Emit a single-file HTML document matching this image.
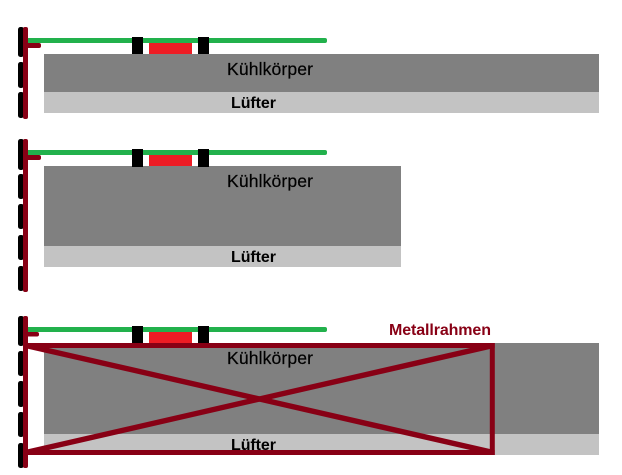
<!DOCTYPE html>
<html>
<head>
<meta charset="utf-8">
<style>
html,body{margin:0;padding:0;background:#fff;width:622px;height:475px;overflow:hidden}
svg{display:block}
text{font-family:"Liberation Sans",Arial,sans-serif;font-size:16px}
.b{font-weight:bold}
.k{font-size:17.6px;stroke:#000;stroke-width:.2px;fill:#000}
</style>
</head>
<body>
<svg width="622" height="475" viewBox="0 0 622 475" xmlns="http://www.w3.org/2000/svg">
<rect width="622" height="475" fill="#fff"/>

<!-- Panel 1 -->
<rect x="44" y="54" width="555" height="38" fill="#808080"/>
<rect x="44" y="92" width="555" height="21" fill="#c3c3c3"/>
<rect x="149" y="43" width="43" height="11" fill="#ed1c24"/>
<rect x="26" y="38" width="301" height="5" rx="2" fill="#22b14c"/>
<rect x="132" y="37" width="11" height="17" fill="#000"/>
<rect x="198" y="37" width="11" height="17" fill="#000"/>
<g fill="#000">
<rect x="18" y="27" width="6" height="30" rx="2.5"/>
<rect x="18" y="62" width="6" height="26" rx="2.5"/>
<rect x="18" y="92" width="6" height="26" rx="2.5"/>
</g>
<rect x="23" y="27" width="5" height="92" rx="2" fill="#880015"/>
<rect x="26" y="43" width="15" height="5" rx="2" fill="#880015"/>
<text x="227" y="75" class="k" textLength="86" lengthAdjust="spacing">Kühlkörper</text>
<text x="231" y="108" class="b" textLength="45" lengthAdjust="spacing">Lüfter</text>

<!-- Panel 2 -->
<rect x="44" y="166" width="357" height="80" fill="#808080"/>
<rect x="44" y="246" width="357" height="21" fill="#c3c3c3"/>
<rect x="149" y="155" width="43" height="11" fill="#ed1c24"/>
<rect x="26" y="150" width="301" height="5" rx="2" fill="#22b14c"/>
<rect x="132" y="149" width="11" height="18" fill="#000"/>
<rect x="198" y="149" width="11" height="18" fill="#000"/>
<g fill="#000">
<rect x="18" y="139" width="6" height="31" rx="2.5"/>
<rect x="18" y="174" width="6" height="25" rx="2.5"/>
<rect x="18" y="204" width="6" height="25" rx="2.5"/>
<rect x="18" y="235" width="6" height="25" rx="2.5"/>
<rect x="18" y="266" width="6" height="25" rx="2.5"/>
</g>
<rect x="23" y="139" width="5" height="153" rx="2" fill="#880015"/>
<rect x="26" y="155" width="15" height="5" rx="2" fill="#880015"/>
<text x="227" y="187" class="k" textLength="86" lengthAdjust="spacing">Kühlkörper</text>
<text x="231" y="262" class="b" textLength="45" lengthAdjust="spacing">Lüfter</text>

<!-- Panel 3 -->
<rect x="44" y="343" width="555" height="91" fill="#808080"/>
<rect x="44" y="434" width="555" height="21" fill="#c3c3c3"/>
<rect x="149" y="332" width="43" height="11" fill="#ed1c24"/>
<rect x="26" y="327" width="301" height="5" rx="2" fill="#22b14c"/>
<rect x="132" y="326" width="11" height="17" fill="#000"/>
<rect x="198" y="326" width="11" height="17" fill="#000"/>
<g fill="#000">
<rect x="18" y="316" width="6" height="30" rx="2.5"/>
<rect x="18" y="351" width="6" height="25" rx="2.5"/>
<rect x="18" y="381" width="6" height="26" rx="2.5"/>
<rect x="18" y="412" width="6" height="25" rx="2.5"/>
<rect x="18" y="443" width="6" height="25" rx="2.5"/>
</g>
<rect x="23" y="316" width="5" height="152" rx="2" fill="#880015"/>
<rect x="26" y="332" width="13" height="4.5" rx="2" fill="#880015"/>
<text x="227" y="364" class="k" textLength="86" lengthAdjust="spacing">Kühlkörper</text>
<text x="231" y="450" class="b" textLength="45" lengthAdjust="spacing">Lüfter</text>

<!-- Metal frame -->
<g stroke="#880015" fill="none">
<line x1="26" y1="345.5" x2="494.7" y2="345.5" stroke-width="5"/>
<line x1="26" y1="452.5" x2="494.7" y2="452.5" stroke-width="5"/>
<line x1="492.3" y1="343" x2="492.3" y2="455" stroke-width="5"/>
<line x1="28" y1="346" x2="491" y2="452" stroke-width="5.4"/>
<line x1="28" y1="452" x2="491" y2="346" stroke-width="5.4"/>
</g>
<text x="389" y="335" class="b" fill="#880015" textLength="102" lengthAdjust="spacing">Metallrahmen</text>
</svg>
</body>
</html>
